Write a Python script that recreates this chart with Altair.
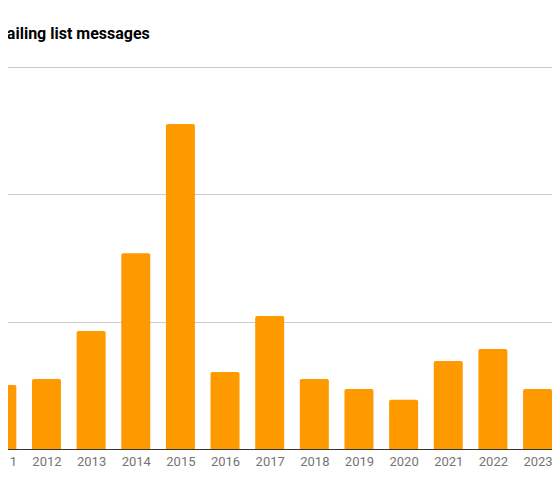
"""Staafdiagram: mailing list messages per jaar (uitsnede)."""

import altair as alt
import pandas as pd

jaren = [2011, 2012, 2013, 2014, 2015, 2016, 2017, 2018, 2019, 2020, 2021, 2022, 2023]
berichten = [251, 275, 463, 769, 1276, 302, 522, 275, 236, 193, 346, 393, 236]
rasterwaarden = [0, 500, 1000, 1500]

df = pd.DataFrame({"jaar": jaren, "berichten": berichten})

# de linker- en rechterrand van de grafiek vallen buiten de uitsnede
x_domein = [2010.69, 2023.324]

chart = (
    alt.Chart(df)
    .mark_bar(
        color="#FF9900",
        size=29,
        orient="vertical",
        cornerRadiusTopLeft=2,
        cornerRadiusTopRight=2,
    )
    .encode(
        x=alt.X(
            "jaar:Q",
            title=None,
            scale=alt.Scale(domain=x_domein, nice=False, zero=False, padding=0),
            axis=alt.Axis(
                values=jaren,
                format="d",
                grid=False,
                ticks=False,
                domainColor="#333333",
                domainWidth=1,
                labelColor="#757575",
                labelFont="Roboto",
                labelFontSize=13,
                labelPadding=6,
                labelFlush=False,
                labelOverlap=False,
                labelBound=False,
            ),
        ),
        y=alt.Y(
            "berichten:Q",
            title=None,
            stack=None,
            scale=alt.Scale(domain=[0, 1500], nice=False),
            axis=alt.Axis(
                values=rasterwaarden,
                grid=True,
                gridColor="#cccccc",
                labels=False,
                ticks=False,
                domain=False,
            ),
        ),
    )
    .properties(
        width=564,
        height=382,
        autosize=alt.AutoSizeParams(type="none"),
        padding={"left": -20, "top": 59, "right": 0, "bottom": 30},
        title=alt.TitleParams(
            "mailing list messages",
            anchor="start",
            frame="group",
            baseline="alphabetic",
            offset=12,
            dx=5,
            font="Roboto",
            fontSize=16,
            fontWeight="bold",
            color="#000000",
        ),
    )
    .configure_view(stroke=None)
)

chart.save("out.html", embed_options={"renderer": "svg", "actions": False})
